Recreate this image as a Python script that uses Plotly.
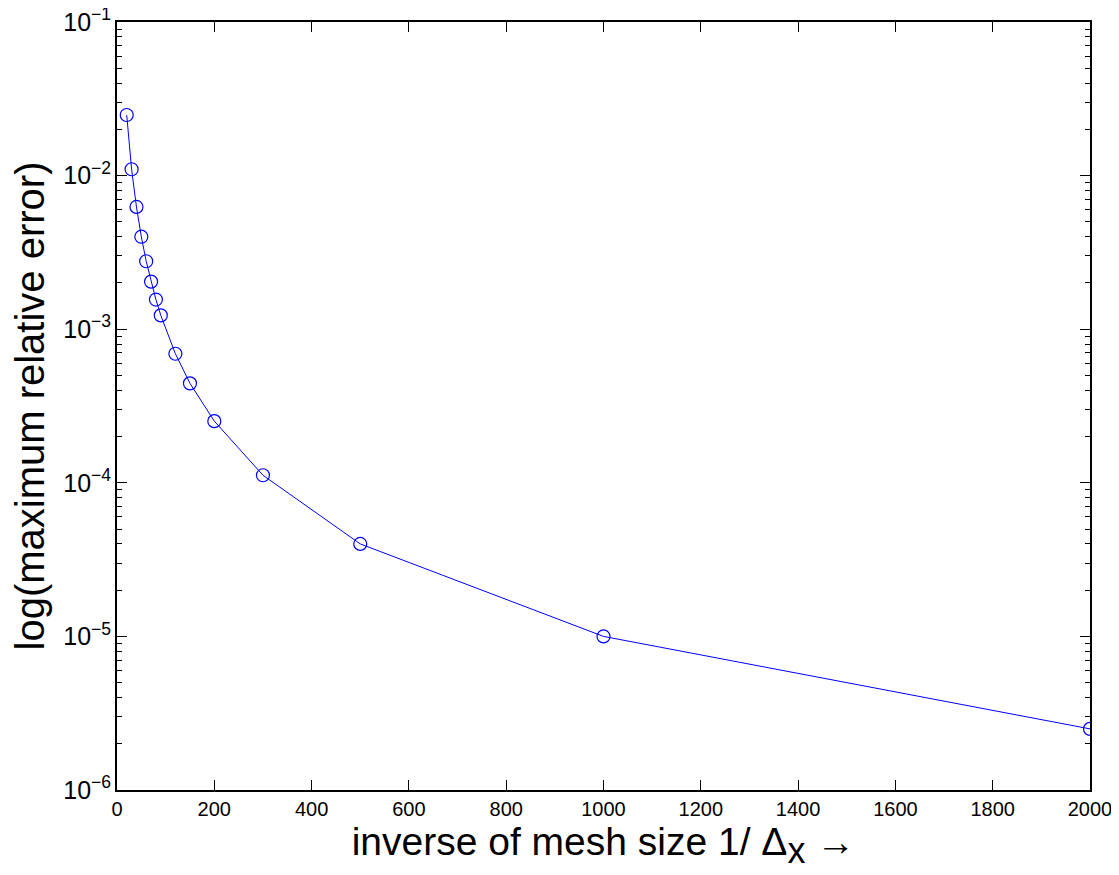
import plotly.graph_objects as go

inv_mesh = [20, 30, 40, 50, 60, 70, 80, 90, 120, 150, 200, 300, 500, 1000, 2000]
max_rel_err = [0.0248, 0.0110, 0.00625, 0.0040, 0.00277, 0.00204, 0.00156, 0.00123,
               0.000692, 0.000444, 0.000252, 0.000112, 4.0e-5, 1.0e-5, 2.5e-6]
x_ticks = [0, 200, 400, 600, 800, 1000, 1200, 1400, 1600, 1800, 2000]

fig = go.Figure()
fig.add_trace(go.Scatter(
    x=inv_mesh, y=max_rel_err, mode="lines+markers",
    line=dict(color="#0000ff", width=1),
    marker=dict(symbol="circle-open", size=13, color="#0000ff", line=dict(width=1.2)),
    showlegend=False,
))

font = "Liberation Sans, Arial, sans-serif"
# page body has an 8px margin, so the figure is offset by 8px
fig.update_layout(
    width=1111, height=867,
    margin=dict(l=109, r=29, t=14, b=85),
    plot_bgcolor="white", paper_bgcolor="white",
    font=dict(family=font, size=20, color="black"),
)
fig.update_xaxes(
    range=[0, 2000], tickvals=x_ticks, automargin=False, ticklabeloverflow="allow",
    ticks="inside", ticklen=10, tickwidth=1, tickcolor="black",
    showline=True, linecolor="black", linewidth=2, mirror="ticks",
    showgrid=False, zeroline=False,
    tickfont=dict(size=20),
    title=dict(text='inverse of mesh size 1/ Δ<sub><span style="font-size:36px">x</span></sub> →',
               font=dict(size=39), standoff=4),
)
fig.update_yaxes(
    type="log", range=[-6, -1], dtick=1, exponentformat="power", automargin=False,
    ticklabeloverflow="allow",
    ticks="inside", ticklen=10, tickwidth=1, tickcolor="black",
    minor=dict(ticks="inside", ticklen=5, tickcolor="black", showgrid=False),
    showline=True, linecolor="black", linewidth=2, mirror="ticks",
    showgrid=False, zeroline=False,
    tickfont=dict(size=20),
    title=dict(text="log(maximum relative error)", font=dict(size=40), standoff=14),
)
fig.write_html("out.html")
